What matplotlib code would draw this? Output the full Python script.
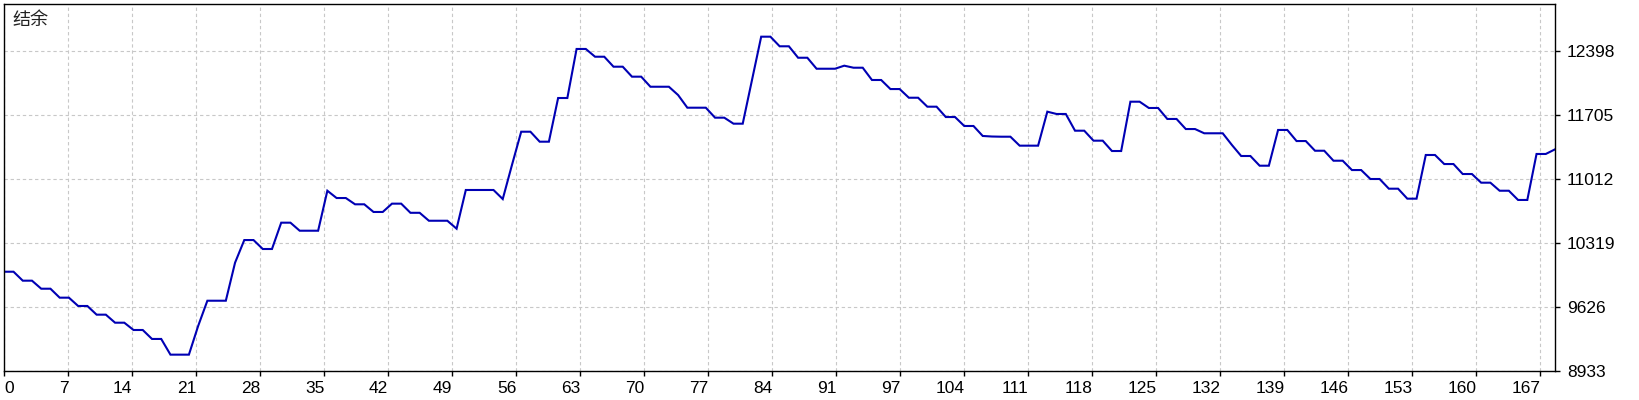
import numpy as np
import matplotlib
matplotlib.use("Agg")
import matplotlib.pyplot as plt
from matplotlib.transforms import ScaledTranslation

# balance after each trade
balance = [10008, 10008, 9911, 9911, 9824, 9824, 9727, 9727, 9637, 9637,
           9543, 9543, 9456, 9456, 9377, 9377, 9280, 9280, 9110, 9110,
           9110, 9420, 9694, 9694, 9694, 10106, 10351, 10351, 10254, 10254,
           10539, 10539, 10452, 10452, 10452, 10885, 10806, 10806, 10738, 10738,
           10655, 10655, 10745, 10745, 10646, 10646, 10560, 10560, 10560, 10474,
           10893, 10893, 10893, 10893, 10795, 11164, 11524, 11524, 11416, 11416,
           11889, 11889, 12420, 12420, 12336, 12336, 12228, 12228, 12120, 12120,
           12011, 12011, 12011, 11921, 11784, 11784, 11784, 11676, 11676, 11611,
           11611, 12084, 12553, 12553, 12449, 12449, 12325, 12325, 12206, 12206,
           12206, 12239, 12217, 12217, 12084, 12084, 11986, 11986, 11892, 11892,
           11795, 11795, 11683, 11683, 11586, 11586, 11478, 11472, 11470, 11470,
           11373, 11373, 11373, 11741, 11716, 11716, 11535, 11535, 11427, 11427,
           11315, 11315, 11849, 11849, 11781, 11781, 11662, 11662, 11553, 11553,
           11507, 11507, 11507, 11380, 11261, 11261, 11156, 11156, 11543, 11543,
           11423, 11423, 11318, 11318, 11210, 11210, 11109, 11109, 11012, 11012,
           10907, 10907, 10799, 10799, 11272, 11272, 11174, 11174, 11066, 11066,
           10972, 10972, 10885, 10885, 10785, 10785, 11283, 11283, 11333]
trades = np.arange(len(balance))

x_labels = ["0", "7", "14", "21", "28", "35", "42", "49", "56", "63", "70", "77",
            "84", "91", "97", "104", "111", "118", "125", "132", "139", "146",
            "153", "160", "167"]
y_ticks = [8933, 9626, 10319, 11012, 11705, 12398]
title = "结余"

fig = plt.figure(figsize=(16.4, 4), dpi=100)
ax = fig.add_axes([4.3/1640, 1-371/400, (1555-4.3)/1640, 367/400])

ax.plot(trades, balance, color="#0000b4", lw=1.5, solid_joinstyle="miter")

n = len(balance) - 1
ax.set_xlim(0, n)
ax.set_ylim(8933, 8933 + 367*693/64)

step = 64 / ((1555 - 4.3) / n)
xt = np.arange(len(x_labels)) * step
ax.set_xticks(xt)
ax.set_xticklabels(x_labels)
for i, lab in enumerate(ax.get_xticklabels()):
    lab.set_horizontalalignment("left" if i == 0 else "right")
# nudge the "0" label off the left border a little
first = ax.get_xticklabels()[0]
first.set_transform(first.get_transform() + ScaledTranslation(2.5/100, 0, fig.dpi_scale_trans))

ax.yaxis.tick_right()
ax.set_yticks(y_ticks)
ax.set_yticklabels([str(v) for v in y_ticks])

ax.tick_params(axis="x", length=3.5, width=1, pad=4, labelsize=12.5)
ax.tick_params(axis="y", length=3.5, width=1, pad=5, labelsize=12.5)
for lab in ax.get_xticklabels() + ax.get_yticklabels():
    lab.set_family(["Liberation Sans", "DejaVu Sans"])

ax.grid(True, color="#c8c8c8", ls=(0, (3, 2.5)), lw=0.8)
ax.set_axisbelow(True)
for s in ax.spines.values():
    s.set_color("black")
    s.set_linewidth(1)

fig.text(12/1640, 1-11/400, title, ha="left", va="top", fontsize=13,
         family=["Noto Sans CJK SC", "DejaVu Sans"], color="#222222")

fig.savefig("out.png", dpi=100, facecolor="white")
